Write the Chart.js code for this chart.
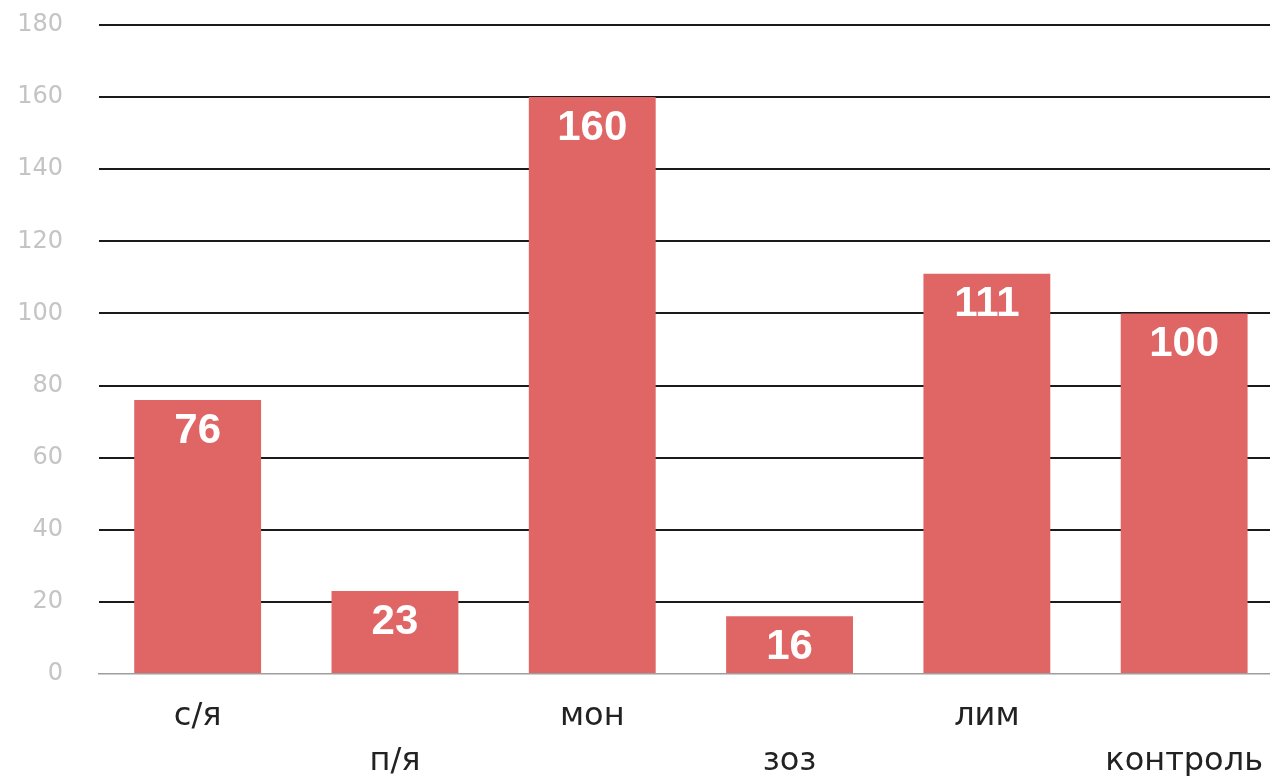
<!DOCTYPE html>
<html>
<head>
<meta charset="utf-8">
<script src="https://cdn.jsdelivr.net/npm/chart.js@4.4.1/dist/chart.umd.min.js"></script>
<style>
html,body{margin:0;padding:0;background:#fff;overflow:hidden;}
#wrap{width:1284px;height:776px;}
</style>
</head>
<body>
<div id="wrap"><canvas id="c" width="1284" height="776" style="width:1284px;height:776px"></canvas></div>
<script>
const categories = ['с/я', 'п/я', 'мон', 'зоз', 'лим', 'контроль'];
const values = [76, 23, 160, 16, 111, 100];
const yTicks = [0, 20, 40, 60, 80, 100, 120, 140, 160, 180];

const barLabels = {
  id: 'barLabels',
  afterDatasetsDraw(chart) {
    const ctx = chart.ctx;
    const meta = chart.getDatasetMeta(0);
    ctx.save();
    ctx.fillStyle = '#ffffff';
    ctx.font = 'bold 42px "Liberation Sans", Arial, sans-serif';
    ctx.textAlign = 'center';
    ctx.textBaseline = 'middle';
    meta.data.forEach((bar, i) => {
      ctx.fillText(String(values[i]), bar.x, bar.y + 31);
    });
    ctx.restore();
  }
};

new Chart(document.getElementById('c'), {
  type: 'bar',
  data: {
    labels: categories.map((c, i) => i % 2 === 0 ? [c] : ['', c]),
    datasets: [{
      data: values,
      backgroundColor: '#e06666',
      borderWidth: 0,
      barPercentage: 0.643,
      categoryPercentage: 1.0
    }]
  },
  options: {
    responsive: false,
    animation: false,
    layout: { padding: { top: 25, left: 0, right: 0, bottom: 0 } },
    plugins: { legend: { display: false }, tooltip: { enabled: false } },
    scales: {
      x: {
        grid: { display: false, drawTicks: false, tickLength: 0 },
        border: { display: true, color: '#9e9e9e', width: 1.5 },
        ticks: {
          color: '#222222',
          padding: 21,
          maxRotation: 0,
          autoSkip: false,
          font: { family: '"DejaVu Sans", sans-serif', size: 32, lineHeight: 1.38 }
        },
        afterFit(scale) { scale.height = 102; scale.paddingTop = 0; scale.paddingBottom = 0; }
      },
      y: {
        min: 0,
        max: 180,
        afterBuildTicks(scale) { scale.ticks = yTicks.map(v => ({ value: v })); },
        grid: {
          drawTicks: false,
          tickLength: 0,
          lineWidth: 2,
          color: (ctx) => ctx.tick && ctx.tick.value === 0 ? 'rgba(0,0,0,0)' : '#1a1a1a'
        },
        border: { display: false },
        ticks: {
          color: '#c4c4c4',
          padding: 36,
          font: { family: '"DejaVu Sans", sans-serif', size: 24 }
        },
        afterFit(scale) { scale.width = 99; scale.paddingTop = 0; scale.paddingBottom = 0; }
      }
    }
  },
  plugins: [barLabels]
});
</script>
</body>
</html>
